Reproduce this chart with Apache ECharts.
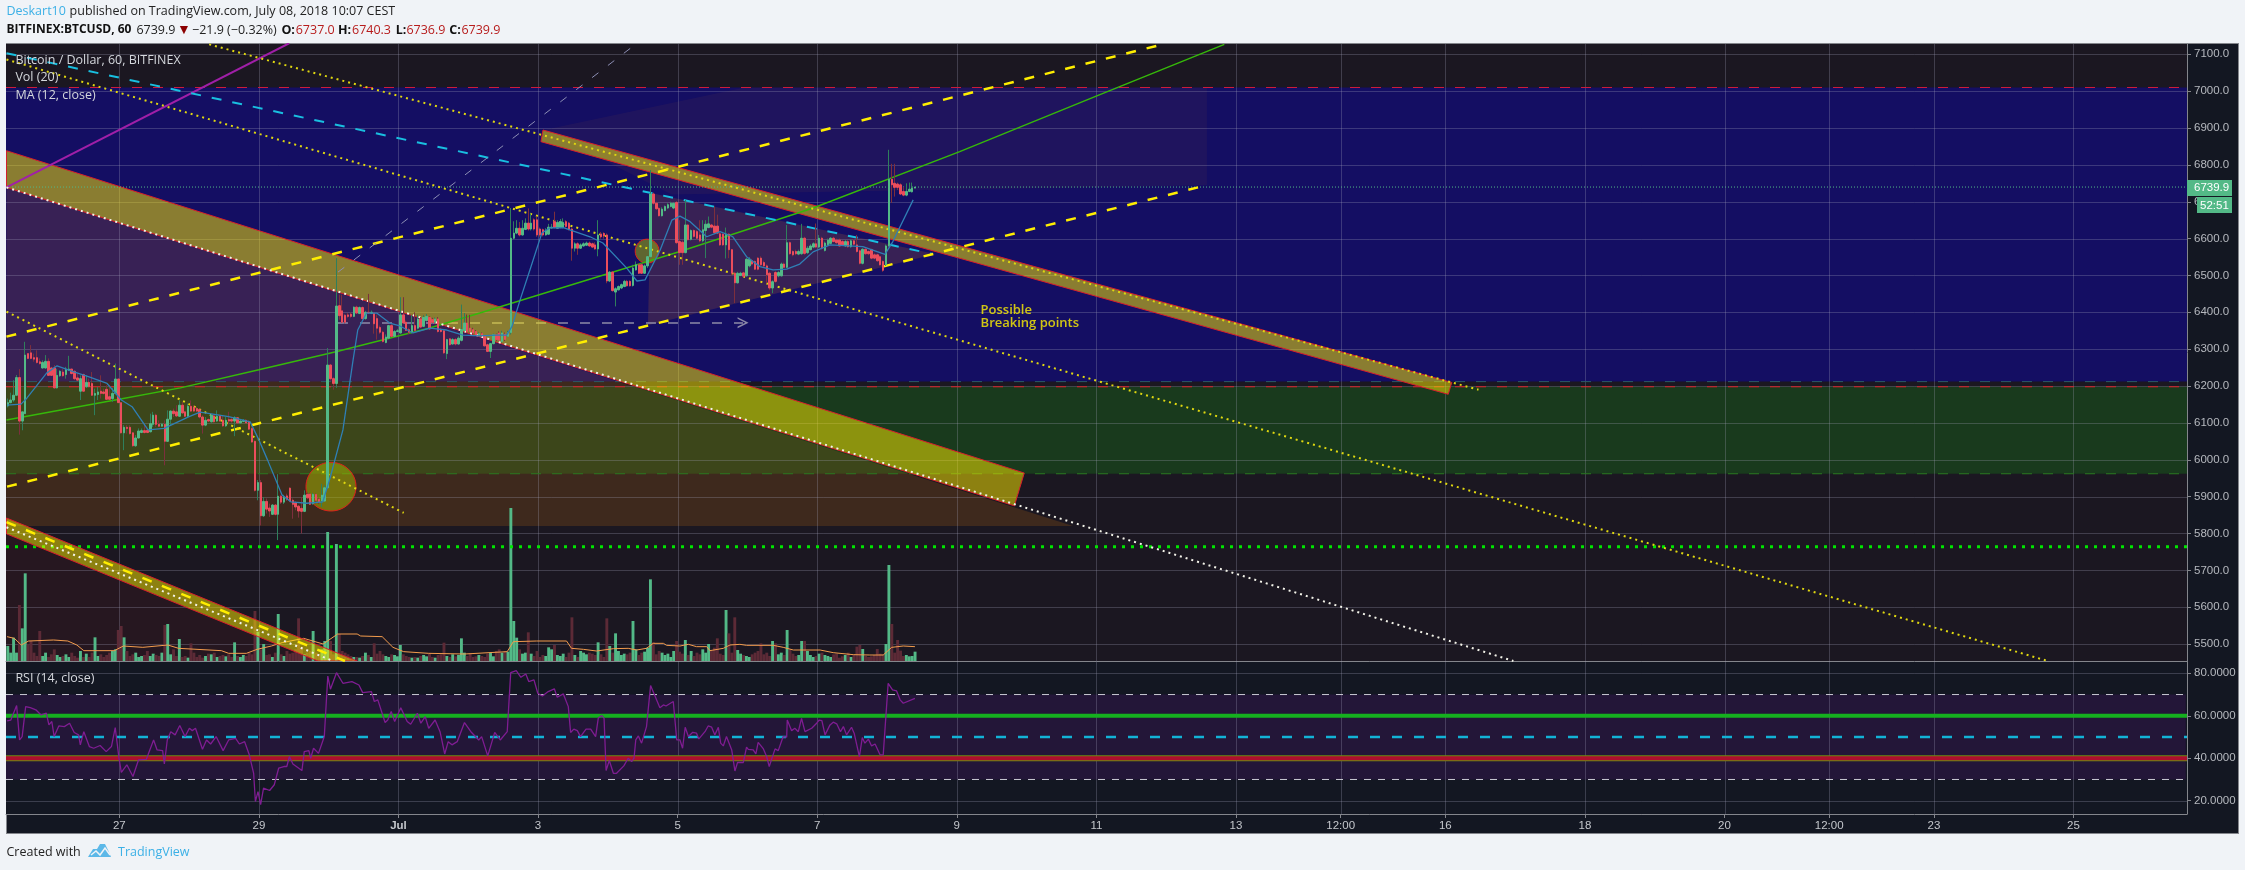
<!DOCTYPE html>
<html>
<head>
<meta charset="utf-8">
<title>BITFINEX:BTCUSD, 60</title>
<style>
html,body{margin:0;padding:0;background:#f0f3f7;width:2245px;height:870px;overflow:hidden}
#frame{position:absolute;left:6px;top:43px;width:2231px;height:789px;background:#131722;border:1px solid #84868c}
#chart{position:absolute;left:0;top:0;width:2245px;height:870px}
</style>
<script src="https://cdn.jsdelivr.net/npm/echarts@6/dist/echarts.min.js"></script>
</head>
<body>
<div id="frame"></div>
<div id="chart"></div>
<script>
// hourly candles: first candle is index firstHour, hours counted from Jun 27 00:00
const firstHour = -38;
const opens = [
6146,6155,6162,6175,6223,6105,6125,6288,6290,6277,
6277,6266,6249,6249,6267,6249,6249,6195,6228,6238,
6231,6242,6246,6240,6222,6186,6231,6198,6210,6207,
6175,6177,6186,6184,6191,6171,6166,6180,6219,6155,
6073,6088,6088,6073,6038,6059,6074,6079,6080,6076,
6096,6121,6096,6091,6096,6050,6110,6132,6130,6118,
6148,6130,6118,6145,6143,6139,6136,6116,6094,6109,
6103,6119,6105,6118,6107,6092,6109,6109,6105,6114,
6100,6104,6107,6103,6085,6050,5917,5938,5848,5887,
5869,5852,5877,5852,5901,5885,5902,5923,5890,5883,
5874,5868,5860,5906,5907,5881,5906,5893,5888,5888,
5924,6257,6220,6207,6418,6404,6392,6393,6395,6389,
6414,6397,6413,6383,6400,6397,6398,6383,6359,6346,
6318,6330,6364,6335,6348,6344,6393,6373,6353,6346,
6364,6357,6382,6362,6378,6386,6380,6373,6382,6354,
6350,6288,6328,6314,6326,6314,6324,6351,6371,6357,
6353,6348,6337,6342,6336,6312,6294,6315,6339,6344,
6321,6341,6335,6345,6601,6615,6628,6610,6625,6642,
6626,6651,6651,6626,6624,6610,6612,6629,6646,6628,
6630,6630,6646,6642,6626,6574,6586,6574,6580,6582,
6588,6586,6583,6572,6612,6614,6610,6485,6509,6455,
6461,6466,6470,6484,6484,6473,6515,6529,6529,6506,
6526,6551,6721,6696,6682,6662,6676,6683,6687,6683,
6698,6592,6590,6562,6637,6598,6622,6619,6610,6594,
6622,6630,6637,6634,6634,6613,6612,6583,6612,6570,
6506,6480,6500,6507,6499,6526,6540,6538,6547,6547,
6535,6526,6506,6466,6508,6499,6499,6531,6522,6589,
6565,6565,6558,6559,6601,6562,6570,6577,6586,6577,
6601,6568,6583,6587,6601,6596,6596,6592,6580,6592,
6578,6594,6583,6567,6533,6571,6565,6570,6556,6556,
6551,6538,6529,6580,6761,6750,6748,6746,6728,6718,
6728,6727,6737];
const closes = [
6155,6162,6175,6223,6105,6130,6284,6275,6275,6273,
6264,6261,6264,6267,6229,6229,6195,6229,6240,6228,
6246,6246,6234,6220,6216,6220,6186,6210,6198,6175,
6180,6184,6180,6180,6164,6164,6180,6219,6155,6073,
6088,6085,6071,6038,6059,6078,6079,6074,6074,6098,
6121,6096,6091,6096,6050,6110,6132,6125,6119,6148,
6127,6118,6145,6132,6132,6132,6116,6094,6107,6105,
6121,6103,6118,6105,6092,6107,6105,6105,6114,6100,
6105,6107,6100,6083,6048,5917,5938,5848,5887,5866,
5861,5877,5852,5901,5885,5899,5893,5888,5879,5872,
5861,5860,5904,5897,5879,5906,5890,5886,5904,5924,
6257,6220,6207,6417,6391,6373,6373,6389,6389,6414,
6398,6413,6383,6400,6398,6400,6369,6357,6346,6321,
6333,6364,6335,6348,6350,6393,6371,6351,6346,6364,
6351,6382,6360,6386,6389,6355,6373,6382,6348,6348,
6290,6326,6312,6326,6314,6330,6353,6371,6348,6348,
6344,6339,6342,6337,6309,6294,6315,6339,6326,6324,
6344,6326,6345,6601,6615,6628,6610,6628,6642,6626,
6642,6626,6610,6610,6610,6622,6631,6631,6630,6644,
6646,6644,6633,6626,6574,6586,6574,6583,6586,6588,
6580,6577,6572,6610,6605,6607,6485,6509,6459,6464,
6470,6475,6484,6472,6472,6520,6529,6506,6506,6526,
6551,6721,6696,6681,6662,6680,6687,6692,6696,6696,
6589,6562,6562,6637,6597,6622,6606,6601,6594,6624,
6639,6640,6631,6616,6615,6583,6583,6612,6570,6506,
6480,6506,6506,6498,6544,6544,6531,6517,6517,6529,
6526,6502,6466,6483,6484,6508,6531,6522,6589,6559,
6556,6559,6565,6601,6560,6574,6580,6586,6577,6601,
6574,6588,6596,6601,6592,6589,6580,6583,6592,6578,
6594,6585,6565,6533,6571,6559,6559,6547,6547,6540,
6529,6514,6580,6761,6746,6739,6739,6721,6718,6728,
6734,6737,6739.9];
const highs = [
6166,6182,6216,6230,6246,6130,6320,6288,6311,6288,
6297,6275,6270,6284,6275,6252,6257,6247,6243,6246,
6252,6282,6247,6243,6234,6229,6234,6229,6220,6238,
6193,6198,6229,6193,6202,6202,6195,6261,6220,6155,
6094,6094,6094,6075,6067,6085,6085,6094,6083,6125,
6130,6125,6107,6100,6107,6134,6134,6139,6148,6161,
6157,6132,6152,6161,6148,6143,6139,6121,6116,6112,
6125,6123,6134,6121,6121,6116,6130,6114,6118,6116,
6110,6110,6110,6107,6088,6052,5945,5945,5899,5895,
5881,5880,5880,5961,5905,5905,5908,5925,5895,5887,
5877,5899,5917,5911,5910,5910,5908,5897,5935,5931,
6303,6260,6224,6547,6448,6448,6395,6398,6400,6416,
6418,6416,6416,6404,6450,6405,6400,6394,6364,6350,
6340,6366,6368,6352,6355,6441,6441,6378,6358,6393,
6400,6393,6387,6392,6395,6389,6385,6386,6387,6358,
6352,6328,6330,6330,6330,6335,6421,6398,6394,6393,
6358,6352,6346,6345,6338,6315,6317,6342,6342,6348,
6350,6345,6350,6683,6647,6650,6645,6650,6655,6682,
6668,6655,6660,6630,6627,6628,6640,6640,6673,6650,
6653,6655,6650,6645,6630,6590,6590,6587,6590,6592,
6592,6589,6590,6650,6618,6617,6614,6512,6512,6468,
6473,6478,6488,6488,6487,6529,6538,6533,6533,6530,
6553,6786,6725,6700,6685,6685,6690,6696,6700,6698,
6702,6650,6595,6705,6640,6625,6625,6623,6650,6650,
6650,6660,6640,6687,6665,6617,6615,6630,6615,6572,
6510,6510,6510,6510,6547,6550,6545,6541,6550,6552,
6540,6530,6510,6487,6512,6512,6535,6535,6637,6592,
6568,6570,6570,6640,6605,6580,6585,6590,6641,6610,
6605,6592,6600,6604,6605,6600,6600,6596,6596,6596,
6598,6598,6610,6570,6574,6574,6568,6573,6560,6559,
6554,6541,6584,6841,6803,6803,6752,6750,6740,6750,
6752,6752,6740.3];
const lows = [
6142,6153,6157,6175,6068,6080,6125,6273,6273,6266,
6261,6258,6247,6247,6229,6228,6193,6193,6225,6225,
6220,6242,6231,6216,6213,6162,6184,6195,6196,6173,
6121,6162,6166,6177,6163,6162,6157,6177,6154,6071,
6026,6071,6068,6035,6035,6058,6072,6071,6072,6074,
6089,6089,6089,6090,5985,6049,6094,6116,6116,6116,
6125,6116,6116,6130,6130,6130,6112,6071,6091,6103,
6101,6101,6103,6103,6089,6089,6096,6100,6064,6098,
6098,6102,6098,6081,6046,5914,5890,5822,5845,5854,
5845,5850,5849,5782,5880,5880,5888,5885,5840,5863,
5843,5800,5858,5893,5877,5878,5881,5880,5872,5886,
5920,6215,6190,6195,6380,6371,6370,6385,6385,6387,
6396,6395,6380,6380,6396,6395,6342,6326,6341,6318,
6316,6327,6333,6333,6346,6342,6368,6350,6340,6342,
6348,6354,6357,6360,6375,6352,6370,6370,6345,6345,
6287,6273,6310,6312,6310,6312,6321,6348,6346,6346,
6340,6337,6335,6335,6307,6292,6276,6313,6322,6322,
6318,6322,6333,6340,6598,6612,6606,6608,6623,6622,
6622,6622,6605,6605,6606,6608,6610,6627,6628,6626,
6628,6628,6630,6622,6540,6565,6556,6572,6578,6580,
6578,6575,6570,6552,6600,6600,6479,6482,6456,6416,
6459,6463,6468,6470,6470,6470,6513,6504,6504,6504,
6520,6548,6692,6678,6660,6660,6674,6680,6685,6680,
6585,6529,6529,6560,6595,6595,6603,6598,6590,6590,
6547,6628,6628,6614,6612,6580,6580,6546,6547,6500,
6425,6478,6498,6495,6497,6522,6528,6515,6514,6526,
6522,6478,6460,6452,6480,6495,6497,6520,6520,6556,
6552,6555,6555,6556,6556,6558,6568,6574,6574,6574,
6570,6565,6580,6585,6590,6586,6578,6580,6578,6575,
6575,6582,6562,6530,6530,6556,6555,6544,6544,6537,
6527,6510,6526,6578,6697,6714,6732,6718,6715,6715,
6726,6725,6736.9];
const volumes = [
45,25,70,25,168,98,263,50,60,25,
15,90,15,25,12,20,35,18,12,15,
20,12,25,15,10,30,12,22,12,25,
71,15,20,12,18,25,30,35,93,105,
71,30,15,20,25,12,15,18,30,15,
22,18,15,25,108,111,20,35,15,66,
12,15,10,53,25,12,18,10,15,22,
20,25,12,15,18,14,20,12,56,15,
12,18,15,25,20,150,88,35,51,18,
20,12,25,141,20,15,30,22,25,35,
128,40,20,25,30,90,25,20,35,60,
387,60,20,351,81,30,25,20,15,12,
12,10,15,25,18,12,53,22,30,20,
15,12,20,18,14,48,20,15,12,10,
12,10,15,18,14,22,12,10,18,20,
55,15,12,20,14,18,68,25,15,22,
12,14,18,15,12,22,25,14,30,35,
25,30,28,459,120,70,35,22,25,86,
22,15,30,12,18,15,41,35,48,18,
15,22,12,25,131,18,12,30,25,20,
25,22,18,56,20,12,128,45,25,83,
30,18,22,20,25,120,35,18,25,28,
40,245,56,20,30,25,18,22,12,30,
60,28,22,63,18,30,15,25,20,35,
25,51,30,40,68,22,18,153,83,25,
131,33,22,18,15,12,20,25,30,53,
20,25,15,60,53,20,25,18,93,35,
22,15,18,60,60,30,18,12,15,22,
25,18,15,12,20,22,10,14,18,25,
12,18,43,48,36,15,12,14,18,36,
22,20,51,288,111,25,63,31,15,18,
14,15,28];
const maHours = [-38.6,-33.8,-31.8,-25,-21.4,-15.9,-10.4,-4.2,0.7,4.4,9.9,15.4,24,27.8,37.6,45,48,51,56,59,64.5,70,72.6,76.9,80.4,82,85,88.5,93,96.5,101,106.8,112.6,118.2,124,129.8,133.2,135,137.8,141.2,145.3,148,152.7,161.9,166.3,174.5,178,180.8,186,190,192.8,196.3,202,206.6,211,215.7,220.3,224.8,229.5,234,238.6,244.4,255.7,263.3,266,273];
const maValues = [6148,6151,6167,6235,6255,6239,6225,6207,6162,6144,6081,6085,6117,6129,6117,6103,6054,5999,5904,5886,5882,5886,5954,6081,6271,6352,6398,6398,6371,6363,6344,6357,6352,6338,6336,6338,6338,6361,6433,6515,6615,6629,6630,6605,6588,6520,6485,6488,6569,6650,6661,6646,6605,6619,6605,6551,6524,6515,6517,6531,6564,6583,6578,6557,6592,6705];
const volMaHours = [-38.6,-36.1,-33.7,-31.2,-22.6,-17.7,-14.6,-12.2,-1.7,1.4,8.1,16.7,20.4,35.1,37.6,43.7,47.4,52.3,56,63.4,70.1,75.1,81.8,83,90.4,94.1,97.8,106.4,118.7,133.4,133.8,135.5,143.5,153.8,155.5,159.6,164.1,169.9,175,177.9,181.3,183.6,187.1,188.2,192.8,195.7,198.5,202,203.1,207.7,210,213.4,215.7,224.9,228.3,231.8,241,245.5,252.4,258.1,262.7,265.6,269.6,273.6];
const volMaValues = [73,68,48,60,63,60,48,31,31,45,41,48,38,31,23,23,35,45,55,68,51,81,81,75,73,41,28,23,21,28,28,58,60,60,38,35,30,37,38,33,38,53,53,47,45,50,43,43,31,38,48,50,47,47,41,33,33,25,19,18,18,41,45,43];
const rsiHours = [-38.6,-37.3,-35.3,-34.3,-33.4,-32.2,-30.6,-28.7,-26.9,-25.1,-24.2,-23.2,-22.4,-20.8,-18.9,-17.1,-15.5,-14,-13.4,-12.2,-10.3,-8.8,-6.6,-4.5,-2.7,-1.4,-0.1,0.7,2.6,4.7,6.6,9.3,11.8,13,14.9,15.5,16.5,17.7,19.2,20.8,22.6,24.1,25.1,26.2,28.6,30,31.4,33.3,35.7,37.6,40,41.3,43.1,44.7,46.2,46.8,47.7,48.6,49.6,51.7,53.3,53.8,54.8,56.6,57.6,58.5,59.7,62.8,63.6,65.2,65.8,66.8,68.5,70.5,71.7,72.6,74.7,76.9,80,82.4,83.7,86.7,87.7,88.9,91.4,92.3,93.5,94.7,96.8,99,100.2,102.5,103.7,105.2,106.4,108.6,110.3,111.9,113.1,114.4,116.2,118.7,120.9,123.6,124.6,126.7,129.1,131,133.4,134,134.6,136.5,138.1,139.8,140.8,142.6,143.9,145.5,147.5,149.6,150.6,152.7,154.4,155.2,156.3,157.5,158.6,160.5,162.1,163.8,164.7,165.9,166.7,167.4,168.5,169.9,171,173.5,175,176.2,177,177.6,178.5,179.6,181.3,182.7,185.9,187.1,188,190.5,191.7,192.8,193.7,194.6,195.7,197.2,198.5,199.3,201.4,202.5,203.7,204.8,206,206.8,207.7,208.8,210.6,211.7,212.6,214.6,215.7,216.3,218,218.9,219.7,221.5,222.6,223.5,225.5,226.6,228.3,229.5,229.7,231.2,232.3,233.5,234.6,235.8,238.1,239.8,240.7,241.6,242.7,244.4,245.5,246.7,248,249,250.1,251.8,252.7,254.5,255.5,256.4,257.6,258.7,259.9,261.6,262.7,264.4,265.9,267.3,268.5,269.6,273.6];
const rsiValues = [57.6,58,64.8,48.6,50.2,64.3,63.8,62.8,60.4,61.2,55.7,57.3,50.2,55.2,54.9,56.5,52.1,51,46.3,52.5,45.5,44.7,46,43.1,45.5,54.4,40,33.3,36.9,31.4,39.2,39.5,48.6,43.9,43.6,37.3,48.6,52.5,51,55.4,50.2,54.1,53,54.1,44.2,48.6,46.7,50.2,43.6,48.6,49.4,46.7,47.8,41.6,32.9,19.6,24.3,18.1,25.9,24.8,27.5,26.7,35.3,36.1,36.1,40.8,37.3,34.2,43.1,43.6,40,44.7,42.3,50.2,78.7,72.5,80.3,75.3,76.1,74.5,70.9,71.4,66.7,67.5,56.8,58,62,57.3,63.8,57.3,56,61.2,56.5,59.6,54.1,58,52.5,42,47.8,46.3,47.8,56.8,52.5,48.6,50.2,41.1,52.2,48.6,52.5,53.3,80.3,81.3,78.1,79.7,76.1,76.9,70.6,69.3,71.4,72.7,68.7,70.3,64.3,52.1,53.7,53,50.2,53.7,53.7,50.2,58.8,60.1,58.8,34.2,38.9,32.9,32.9,36.4,40,38.4,40,48.6,50.5,47.1,54.9,74.2,63.8,65.1,64.6,66.7,48.6,48.6,44.7,54.6,50.2,52.2,51.8,49.1,52.5,55.2,54.6,51,54.6,47.1,45.8,50.2,43.9,34,38,38,45.2,44.2,43.9,42,47.5,44.4,40.8,36.1,44.4,43.6,50.2,49.9,58,53,54.1,52.5,58.8,52.5,54.1,56.5,58,57.7,51,55.7,57,56.2,52.5,54.9,51,54.6,51.8,40.8,49.7,47.1,49,45.8,46.7,41.6,41.6,75.3,72.2,71.7,67.5,65.9,68.2];
// axes
const xMin = -38.96, xMax = 711.04;
const priceMin = 5454, priceMax = 7128;
const rsiMin = 13.74, rsiMax = 85.79;
const volMax = 1851;
const timeTickHours = [0,48,96,144,192,240,288,336,384,420,456,504,552,588,624,672];
const timeTickLabels = ['27','29','Jul','3','5','7','9','11','13','12:00','16','18','20','12:00','23','25'];
const priceTicks = [5500,5600,5700,5800,5900,6000,6100,6200,6300,6400,6500,6600,6700,6800,6900,7000,7100];
const rsiTicks = [20,40,60,80];
// drawn levels and drawings, as [hour, price]
const lastPrice = 6739.9;
const dropLevel = 5764, resistTop = 7010, resistLow = 6198, blueLow = 6212, greenLow = 5962, brownLow = 5820;
const rsiHigh = 70, rsiLow = 30, rsiMid = 50, rsiUpper = 60, rsiLower = 40;
const blueZone = [[xMin,blueLow],[xMax,blueLow],[xMax,resistTop],[xMin,resistTop]];
const greenZone = [[xMin,greenLow],[xMax,greenLow],[xMax,resistLow],[xMin,resistLow]];
const orangeWedge = [[-38.8,6739],[328,brownLow],[xMin,brownLow]];
const centerWedge = [[181.8,6365],[182.8,6724],[280.6,6558]];
const upperWedge = [[146,6895],[146,6895],[215,7010],[374,7010],[374,6745],[190,6720]];
const redCorner = [[xMin,5799],[68.3,5454],[xMin,5454]];
const bandMain = [[-38.8,6838.5],[311.2,5964],[307.8,5875],[-38.8,6739]];
const bandUpper = [[145.7,6894.6],[458.2,6209.6],[457,6177.6],[145,6863]];
const bandLower = [[-38.8,5842],[81.7,5454],[68.3,5454],[-38.8,5799]];
const rsiBandZone = [[xMin,rsiLow],[710.6,rsiLow],[710.6,rsiHigh],[xMin,rsiHigh]];
const circleBig = [72.8,5927,8.6,66];
const circleSmall = [181.5,6566,4.1,32.5];
const noteHours = [296,296], notePrices = [6406,6371], noteTexts = ['Possible','Breaking points'];

const F = '"Open Sans",sans-serif';
const base = {animation:false, silent:true};
function line(name,hours,vals,color,width,type,z,xi=0,yi=0,extra={}){
  return Object.assign({},base,{type:'line',name,xAxisIndex:xi,yAxisIndex:yi,symbol:'none',showSymbol:false,z,
    data:hours.map((h,i)=>[h,vals[i]]),
    lineStyle:{color,width,type:type||'solid',cap:'butt',opacity:1}},extra);
}
function seg(name,a,b,color,width,type,z){return line(name,[a[0],b[0]],[a[1],b[1]],color,width,type,z);}
function level(name,v,color,width,type,z,xi=0,yi=0){return line(name,[xMin,xMax],[v,v],color,width,type,z,xi,yi);}
function area(name,verts,fill,stroke,z,xi=0,yi=0){
  return Object.assign({},base,{type:'custom',name,xAxisIndex:xi,yAxisIndex:yi,z,clip:true,encode:{x:0,y:1},
    data:[verts[0]],
    renderItem:(p,api)=>({type:'polygon',shape:{points:verts.map(v=>api.coord(v))},
      style:{fill,stroke:stroke||'none',lineWidth:stroke?1:0}})});
}
function ellipse(name,c,fill,stroke,z){
  return Object.assign({},base,{type:'custom',name,xAxisIndex:0,yAxisIndex:0,z,clip:true,encode:{x:0,y:1},
    data:[[c[0],c[1]]],
    renderItem:(p,api)=>{const o=api.coord([c[0],c[1]]),s=api.size([c[2],c[3]]);
      return {type:'ellipse',shape:{cx:o[0],cy:o[1],rx:s[0],ry:s[1]},style:{fill,stroke,lineWidth:1}};}});
}
function hGrid(ticks,xi,yi,color){
  return Object.assign({},base,{type:'custom',name:'hgrid',xAxisIndex:xi,yAxisIndex:yi,z:3,encode:{x:0,y:1},
    data:ticks.map(t=>[xMin,t]),
    renderItem:(p,api)=>{const v=api.value(1),a=api.coord([xMin,v]),b=api.coord([xMax,v]);
      return {type:'line',shape:{x1:a[0],y1:Math.round(a[1])+.5,x2:b[0],y2:Math.round(a[1])+.5},style:{stroke:color,lineWidth:1}};}});
}
function vGrid(ticks,xi,yi,lo,hi,color){
  return Object.assign({},base,{type:'custom',name:'vgrid',xAxisIndex:xi,yAxisIndex:yi,z:3,encode:{x:0,y:1},
    data:ticks.map(t=>[t,lo]),
    renderItem:(p,api)=>{const h=api.value(0),a=api.coord([h,lo]),b=api.coord([h,hi]);const x=Math.round(a[0])+.5;
      return {type:'line',shape:{x1:x,y1:a[1],x2:x,y2:b[1]},style:{stroke:color,lineWidth:1}};}});
}
const candleX = h => h - 0.35;
const hoursAll = opens.map((_,i)=>firstHour+i);
const up='#53b987', dn='#eb4d5c', upWick='#2f7f5c', dnWick='#7d2f3d';
const wickData = hoursAll.map((h,i)=>[candleX(h),opens[i],closes[i],lows[i],highs[i]]);
const bodyData = hoursAll.map((h,i)=>[candleX(h),opens[i],closes[i],Math.min(opens[i],closes[i]),Math.max(opens[i],closes[i])]);
const volData = hoursAll.map((h,i)=>({value:[candleX(h),volumes[i]],itemStyle:{color:closes[i]>=opens[i]?up:'#5c2a36'}}));

const gridCol='rgba(165,165,190,.28)';
const series=[
  area('blue zone',blueZone,'#140e63',null,1),
  area('green zone',greenZone,'#193a1d',null,1),
  area('red corner',redCorner,'rgba(190,30,30,.07)',null,1),
  area('orange wedge',orangeWedge,'rgba(250,137,14,.16)',null,2),
  area('upper wedge',upperWedge,'rgba(250,137,14,.05)',null,2),
  area('center wedge',centerWedge,'rgba(250,137,14,.16)',null,2),
  hGrid(priceTicks,0,0,gridCol), vGrid(timeTickHours,0,0,priceMin,priceMax,gridCol),
  level('dim',blueLow,'#2b5a68',1,[10,11],4),
  level('res top',resistTop,'#d01c3c',1,[10,11],4),
  level('res low',resistLow,'#e0202a',1,[10,11],4),
  level('green low',greenLow,'#2a7a20',1,[10,11],4),
  level('drop',dropLevel,'#00e600',3,[3,6],4),
  Object.assign({},base,{type:'bar',name:'Vol',xAxisIndex:0,yAxisIndex:1,barWidth:2.9,z:4,data:volData}),
  line('Vol MA',volMaHours,volMaValues,'#f39c4d',1,'solid',5,0,1),
  area('band main',bandMain,'rgba(255,235,0,.5)','#d81e2c',6),
  area('band upper',bandUpper,'rgba(255,235,0,.5)','#d81e2c',6),
  area('band lower',bandLower,'rgba(255,235,0,.5)','#d81e2c',6),
  ellipse('circle big',circleBig,'rgba(170,190,0,.5)','#e0201a',6),
  ellipse('circle small',circleSmall,'rgba(170,190,0,.5)','#e0201a',6),
  level('last',lastPrice,'#53b987',1,[1,2],7),
  seg('magenta',[-38.8,6739],[58.4,7130],'#a01fa8',2,'solid',7),
  line('curve',[-38.8,0,21,48,74.5,106.4,124,192.8,238.6,289,337,380],[6108,6164,6195,6244,6293,6357,6398,6565,6683,6836,6990,7127],'#36b80a',1.5,'solid',7),
  seg('cyan',[-38.8,7103],[279.8,6558],'#19bfe0',2,[10,11],7),
  seg('channel top',[-38.8,6334],[359.2,7128],'#ffee00',2.5,[10,11],7),
  seg('channel low',[-38.6,5927],[374,6745],'#ffee00',2.5,[10,11],7),
  seg('dots upper',[30.9,7127],[467.4,6190],'#e0d810',2,[2,4],7),
  seg('dots middle',[-38.8,7086],[663.2,5454],'#e0d810',2,[2,4],7),
  seg('dots short',[-38.8,6402],[97.8,5856],'#e0d810',2,[2,4],7),
  seg('dots main',[-38.8,6739],[479.4,5454],'#f4f4ea',2,[2,4],7),
  seg('dots lower',[-38.8,5817],[73.5,5454],'#f4f4ea',2,[2,4],7),
  seg('dash lower',[-38.8,5831],[77.6,5454],'#ffee00',2.5,[10,11],7),
  seg('thin',[75.2,6509],[178,7130],'#8d8fb5',1,[8,12],7),
  Object.assign({},base,{type:'line',name:'arrow',xAxisIndex:0,yAxisIndex:0,z:7,data:[],
    markLine:{silent:true,animation:false,symbol:['none','path://M0 8L5 0L10 8L8.6 8L5 2.4L1.4 8Z'],symbolSize:11,label:{show:false},
      lineStyle:{color:'#8d8aa8',width:1.5,type:[10,12]},
      data:[[{coord:[75.2,6372]},{coord:[214.5,6372]}]]}}),
  Object.assign({},base,{type:'candlestick',name:'wicks',xAxisIndex:0,yAxisIndex:0,z:8,barWidth:0.4,encode:{x:0,y:[1,2,3,4]},
    itemStyle:{color:upWick,color0:dnWick,borderColor:upWick,borderColor0:dnWick,borderWidth:1},data:wickData}),
  Object.assign({},base,{type:'candlestick',name:'BTCUSD',xAxisIndex:0,yAxisIndex:0,z:9,barWidth:2,encode:{x:0,y:[1,2,3,4]},
    itemStyle:{color:up,color0:dn,borderColor:up,borderColor0:dn,borderWidth:1},data:bodyData}),
  line('MA (12, close)',maHours,maValues,'#2f7fb5',1.3,'solid',10),
  Object.assign({},base,{type:'scatter',name:'note',xAxisIndex:0,yAxisIndex:0,z:11,symbolSize:1,itemStyle:{color:'transparent'},
    data:noteHours.map((h,i)=>({value:[h,notePrices[i]],name:noteTexts[i]})),
    label:{show:true,position:'right',distance:0,color:'#fff200',fontSize:13,fontWeight:600,fontFamily:F,formatter:p=>p.name}}),
  // RSI pane
  area('rsi band',rsiBandZone,'#231638',null,1,1,2),
  hGrid(rsiTicks,1,2,gridCol), vGrid(timeTickHours,1,2,rsiMin,rsiMax,gridCol),
  level('70',rsiHigh,'#c9c9d2',1,[7,7],4,1,2),
  level('30',rsiLow,'#c9c9d2',1,[7,7],4,1,2),
  level('50',rsiMid,'#12b3d6',2.5,[10,12],4,1,2),
  level('60',rsiUpper,'#15b01f',4,'solid',4,1,2),
  level('40o',rsiLower,'#6f8a10',6,'solid',4,1,2),
  level('40',rsiLower,'#ad0f2e',4,'solid',4,1,2),
  line('RSI (14, close)',rsiHours,rsiValues,'#7f1d92',1.3,'solid',6,1,2)
];

function t(x,y,text,fill,size,weight){
  return {type:'text',z:100,style:{x,y,text,fill,verticalAlign:'middle',font:(weight||'normal')+' '+(size||13)+'px '+F}};
}
const lbl='#d4d7dc';
const graphic=[
  t(6.5,11.7,'Deskart10','#3bb0e6',12.5),
  t(69.6,11.7,'published on TradingView.com, July 08, 2018 10:07 CEST','#222',12.5),
  t(6.5,30,'BITFINEX:BTCUSD, 60','#111',12,'bold'),
  t(136.4,30,'6739.9','#222',12.5),
  t(177,30,'▼','#8b0000',14),
  t(192,30,'−21.9 (−0.32%)','#222',12.5),
  t(281.4,30,'O:','#111',12.5,'bold'), t(295.7,30,'6737.0','#b71c1c',12.5),
  t(338,30,'H:','#111',12.5,'bold'), t(352,30,'6740.3','#b71c1c',12.5),
  t(395.7,30,'L:','#111',12.5,'bold'), t(406.4,30,'6736.9','#b71c1c',12.5),
  t(449.3,30,'C:','#111',12.5,'bold'), t(461.4,30,'6739.9','#b71c1c',12.5),
  t(15.4,60.7,'Bitcoin / Dollar, 60, BITFINEX',lbl,12.5),
  t(15.4,77.7,'Vol (20)',lbl,12.5),
  t(15.4,95,'MA (12, close)',lbl,12.5),
  t(15.4,678,'RSI (14, close)',lbl,12.5),
  {type:'rect',z:100,shape:{x:2187,y:180,width:45,height:16},style:{fill:up}},
  {type:'rect',z:100,shape:{x:2197,y:197,width:35,height:16},style:{fill:up}},
  {type:'text',z:101,style:{x:2194,y:188,text:lastPrice.toFixed(1),fill:'#fff',verticalAlign:'middle',font:'11.5px "Liberation Sans"'}},
  {type:'text',z:101,style:{x:2200,y:205.5,text:'52:51',fill:'#fff',verticalAlign:'middle',font:'11.5px "Liberation Sans"'}},
  t(6.5,852.7,'Created with','#222',12.5),
  {type:'polygon',z:100,shape:{points:[[88,857],[93,849],[97,849],[100,844],[105,844],[108,850],[111,857]]},style:{fill:'#5cb8e8'}},
  {type:'polyline',z:101,shape:{points:[[91,855],[96,851],[100,855],[105,848],[110,855]]},style:{stroke:'#f0f3f7',fill:'none',lineWidth:1.5}},
  t(118,852.7,'TradingView','#3bb0e6',12.5)
];
const axisCol='#84868c';
const option={
  animation:false,
  backgroundColor:'transparent',
  graphic,
  grid:[
    {left:6,top:44,width:2181,height:617,show:true,backgroundColor:'#1b1721',borderWidth:0},
    {left:6,top:661,width:2181,height:153,show:true,backgroundColor:'#131722',borderWidth:0}
  ],
  xAxis:[
    {type:'value',gridIndex:0,min:xMin,max:xMax,position:'bottom',axisLine:{show:true,onZero:false,lineStyle:{color:axisCol}},axisTick:{show:false},axisLabel:{show:false},splitLine:{show:false}},
    {type:'value',gridIndex:1,min:xMin,max:xMax,position:'bottom',
      axisLine:{show:true,onZero:false,lineStyle:{color:axisCol}},
      axisTick:{show:true,length:4,customValues:timeTickHours,lineStyle:{color:axisCol}},
      axisLabel:{show:true,customValues:timeTickHours,margin:6,color:'#c4c7cc',fontSize:11.5,fontFamily:'"Liberation Sans"',
        formatter:v=>{const s=timeTickLabels[timeTickHours.indexOf(v)];return s==='Jul'?'{b|Jul}':s;},rich:{b:{fontWeight:'bold',color:'#c4c7cc',fontSize:11.5,fontFamily:'"Liberation Sans"'}}},
      splitLine:{show:false}}
  ],
  yAxis:[
    {type:'value',gridIndex:0,min:priceMin,max:priceMax,position:'right',
      axisLine:{show:true,onZero:false,lineStyle:{color:axisCol}},
      axisTick:{show:true,length:4,customValues:priceTicks,lineStyle:{color:axisCol}},
      axisLabel:{show:true,customValues:priceTicks,margin:7,color:'#b6b9bf',fontSize:11.5,fontFamily:'"Liberation Sans"',formatter:v=>v.toFixed(1)},
      splitLine:{show:false}},
    {type:'value',gridIndex:0,min:0,max:volMax,show:false,splitLine:{show:false}},
    {type:'value',gridIndex:1,min:rsiMin,max:rsiMax,position:'right',
      axisLine:{show:true,onZero:false,lineStyle:{color:axisCol}},
      axisTick:{show:true,length:4,customValues:rsiTicks,lineStyle:{color:axisCol}},
      axisLabel:{show:true,customValues:rsiTicks,margin:7,color:'#b6b9bf',fontSize:11.5,fontFamily:'"Liberation Sans"',formatter:v=>v.toFixed(4)},
      splitLine:{show:false}}
  ],
  series
};
const chart=echarts.init(document.getElementById('chart'),null,{renderer:'canvas',width:2245,height:870});
chart.setOption(option);
</script>
</body>
</html>
